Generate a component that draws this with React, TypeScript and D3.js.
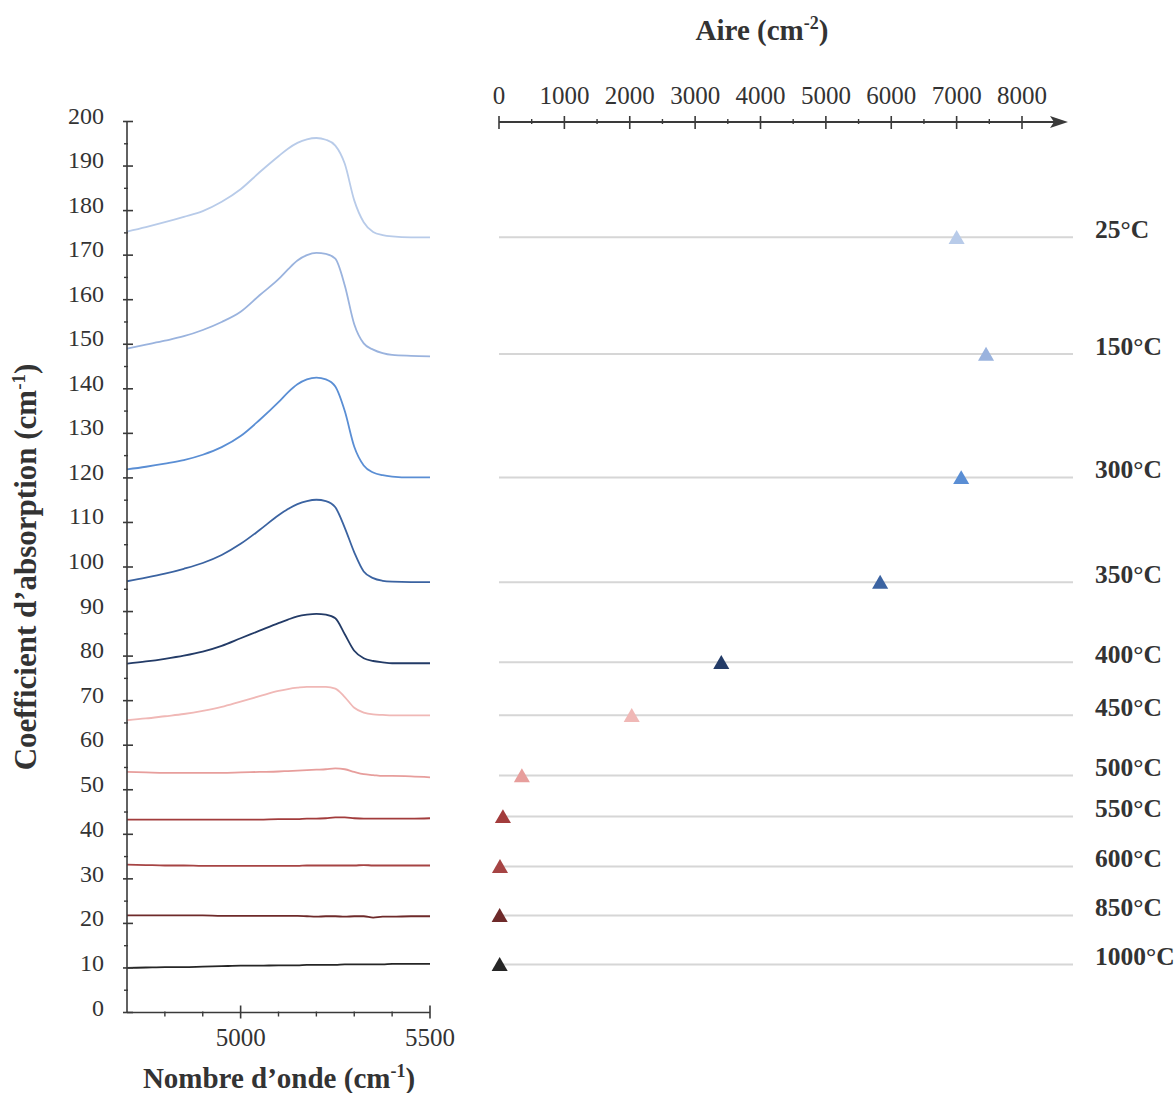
import React from "react";
import * as d3 from "d3";

// Wavenumber grid (cm-1) where the spectra were read
const wavenumbers = [4700, 4750, 4800, 4850, 4900, 4950, 5000, 5050, 5100, 5125, 5150, 5175, 5200, 5225, 5250, 5275, 5300, 5325, 5350, 5375, 5400, 5450, 5500];

// Absorption coefficient (cm-1), stacked spectra per annealing temperature
const abs25 = [175.3, 176.3, 177.4, 178.6, 179.9, 182.0, 184.8, 188.6, 192.2, 193.9, 195.2, 196.0, 196.3, 195.9, 194.6, 190.5, 182.3, 177.4, 175.2, 174.5, 174.2, 174.0, 174.0];
const abs150 = [149.0, 149.9, 150.8, 151.8, 153.2, 155.0, 157.3, 161.0, 164.6, 166.8, 168.8, 170.0, 170.5, 170.3, 169.2, 163.2, 154.5, 150.2, 148.8, 148.0, 147.6, 147.4, 147.3];
const abs300 = [121.9, 122.5, 123.2, 124.0, 125.2, 126.9, 129.4, 133.0, 137.0, 139.2, 141.0, 142.1, 142.5, 142.1, 140.5, 135.0, 127.0, 122.8, 121.2, 120.6, 120.3, 120.1, 120.1];
const abs350 = [96.8, 97.6, 98.5, 99.6, 100.9, 102.7, 105.2, 108.3, 111.6, 113.0, 114.1, 114.8, 115.1, 114.8, 113.4, 108.8, 103.3, 99.0, 97.5, 96.9, 96.7, 96.6, 96.6];
const abs400 = [78.3, 78.8, 79.4, 80.1, 81.0, 82.3, 84.0, 85.7, 87.4, 88.2, 88.9, 89.3, 89.5, 89.3, 88.5, 84.9, 81.2, 79.5, 78.9, 78.6, 78.4, 78.4, 78.4];
const abs450 = [65.6, 66.0, 66.5, 67.0, 67.7, 68.6, 69.8, 71.0, 72.2, 72.6, 72.9, 73.1, 73.1, 73.1, 72.7, 70.8, 68.4, 67.3, 66.9, 66.8, 66.7, 66.7, 66.7];
const abs500 = [54.0, 53.9, 53.8, 53.8, 53.8, 53.8, 53.9, 54.0, 54.1, 54.2, 54.3, 54.4, 54.5, 54.6, 54.8, 54.6, 54.0, 53.5, 53.3, 53.1, 53.1, 53.0, 52.8];
const abs550 = [43.3, 43.3, 43.3, 43.3, 43.3, 43.3, 43.3, 43.3, 43.4, 43.4, 43.4, 43.5, 43.5, 43.6, 43.8, 43.8, 43.6, 43.5, 43.5, 43.5, 43.5, 43.5, 43.6];
const abs600 = [33.2, 33.1, 33.0, 33.0, 32.9, 32.9, 32.9, 32.9, 32.9, 32.9, 32.9, 33.0, 33.0, 33.0, 33.0, 33.0, 33.0, 33.1, 33.0, 33.0, 33.0, 33.0, 33.0];
const abs850 = [21.8, 21.8, 21.8, 21.8, 21.8, 21.7, 21.7, 21.7, 21.7, 21.7, 21.7, 21.6, 21.5, 21.6, 21.6, 21.5, 21.6, 21.6, 21.3, 21.5, 21.5, 21.6, 21.6];
const abs1000 = [10.0, 10.1, 10.2, 10.2, 10.3, 10.4, 10.5, 10.5, 10.6, 10.6, 10.6, 10.7, 10.7, 10.7, 10.7, 10.8, 10.8, 10.8, 10.8, 10.8, 10.9, 10.9, 10.9];

const spectra = [abs25, abs150, abs300, abs350, abs400, abs450, abs500, abs550, abs600, abs850, abs1000];

const temperatures = ["25°C", "150°C", "300°C", "350°C", "400°C", "450°C", "500°C", "550°C", "600°C", "850°C", "1000°C"];
const seriesColors = ["#b8cbe9", "#9ab3de", "#5a8ed4", "#3b63a1", "#233b67", "#f0b8b6", "#e79e9c", "#a23c3c", "#a64444", "#6e2a2a", "#262626"];

// Integrated area (cm-2) per temperature
const areaValues = [7000, 7450, 7070, 5830, 3400, 2030, 350, 60, 15, 10, 10];
// Level (in absorption units) of each row of the area panel
const rowLevels = [174.0, 147.8, 120.1, 96.6, 78.6, 66.7, 53.2, 44.0, 32.8, 21.8, 10.8];

const yTicks = d3.range(0, 201, 10);
const yMinorTicks = d3.range(5, 200, 10);
const xMajorTicks = [5000, 5500];
const xMinorTicks = [4800, 4900, 5100, 5200, 5300, 5400];
const areaTicks = d3.range(0, 8001, 1000);
const areaMinorTicks = d3.range(500, 8000, 1000);

const FONT = "'Liberation Serif', 'Times New Roman', serif";
const AXIS = "#3a3a3a";
const TXT = "#333";

export default function App() {
  const W = 1176, H = 1093;
  const x = d3.scaleLinear().domain([4700, 5500]).range([127, 430]);
  const y = d3.scaleLinear().domain([0, 200]).range([1012.5, 121.5]);
  const xa = d3.scaleLinear().domain([0, 8000]).range([499, 1022]);
  const line = d3
    .line<number>()
    .x((_, i) => x(wavenumbers[i]))
    .y((d) => y(d))
    .curve(d3.curveMonotoneX);
  const tri = d3.symbol().type(d3.symbolTriangle).size(112)();
  const axisY = 122;
  const rowEnd = 1073;

  return (
    <svg
      width={W}
      height={H}
      style={{ position: "absolute", left: 0, top: 0, background: "#fff" }}
      fontFamily={FONT}
    >
      {/* Left panel: spectra */}
      <g>
        {spectra.map((s, i) => (
          <path key={temperatures[i]} d={line(s) || ""} fill="none" stroke={seriesColors[i]} strokeWidth={1.8} />
        ))}
        {/* y axis */}
        <line x1={x(4700)} x2={x(4700)} y1={y(200)} y2={y(0)} stroke={AXIS} strokeWidth={1.6} />
        {yTicks.map((t) => (
          <g key={"yt" + t}>
            <line x1={x(4700) - 4} x2={x(4700) + 6} y1={y(t)} y2={y(t)} stroke={AXIS} strokeWidth={1.6} />
            <text x={104} y={y(t) + 2 + (t < 50 ? 1 : 0)} textAnchor="end" fontSize={24} fill={TXT}>
              {t}
            </text>
          </g>
        ))}
        {yMinorTicks.map((t) => (
          <line key={"ym" + t} x1={x(4700) - 3} x2={x(4700) + 1} y1={y(t)} y2={y(t)} stroke={AXIS} strokeWidth={1.4} />
        ))}
        {/* x axis */}
        <line x1={x(4700)} x2={x(5500)} y1={y(0)} y2={y(0)} stroke={AXIS} strokeWidth={1.6} />
        {xMajorTicks.map((t) => (
          <g key={"xt" + t}>
            <line x1={x(t)} x2={x(t)} y1={y(0) - 7} y2={y(0) + 6} stroke={AXIS} strokeWidth={1.6} />
            <text x={x(t)} y={1046} textAnchor="middle" fontSize={25} fill={TXT}>
              {t}
            </text>
          </g>
        ))}
        {xMinorTicks.map((t) => (
          <line key={"xm" + t} x1={x(t)} x2={x(t)} y1={y(0) - 1} y2={y(0) + 4} stroke={AXIS} strokeWidth={1.4} />
        ))}
        <text x={279} y={1088} textAnchor="middle" fontSize={29} fontWeight="bold" fill={TXT}>
          Nombre d’onde (cm<tspan dy={-11} fontSize={18}>-1</tspan>
          <tspan dy={11}>)</tspan>
        </text>
        <text
          transform={`translate(36, 567) rotate(-90)`}
          textAnchor="middle"
          fontSize={31}
          fontWeight="bold"
          fill={TXT}
        >
          Coefficient d’absorption (cm<tspan dy={-11} fontSize={19}>-1</tspan>
          <tspan dy={11}>)</tspan>
        </text>
      </g>

      {/* Right panel: area */}
      <g>
        <text x={762} y={40} textAnchor="middle" fontSize={29} fontWeight="bold" fill={TXT}>
          Aire (cm<tspan dy={-11} fontSize={18}>-2</tspan>
          <tspan dy={11}>)</tspan>
        </text>
        <line x1={xa(0)} x2={1060} y1={axisY} y2={axisY} stroke={AXIS} strokeWidth={1.8} />
        <path d={`M1068,${axisY} L1050,${axisY - 6} L1054,${axisY} L1050,${axisY + 6} Z`} fill={AXIS} />
        {areaTicks.map((t) => (
          <g key={"at" + t}>
            <line x1={xa(t)} x2={xa(t)} y1={axisY - 6} y2={axisY + 7} stroke={AXIS} strokeWidth={1.6} />
            <text x={xa(t)} y={104} textAnchor="middle" fontSize={25} fill={TXT}>
              {t}
            </text>
          </g>
        ))}
        {areaMinorTicks.map((t) => (
          <line key={"am" + t} x1={xa(t)} x2={xa(t)} y1={axisY - 3} y2={axisY + 2} stroke={AXIS} strokeWidth={1.4} />
        ))}
        {temperatures.map((tl, i) => {
          const ry = y(rowLevels[i]);
          return (
            <g key={"row" + tl}>
              <line x1={xa(0)} x2={rowEnd} y1={ry} y2={ry} stroke="#d6d6d6" strokeWidth={2} />
              <path d={tri || ""} transform={`translate(${xa(areaValues[i])}, ${ry + 2})`} fill={seriesColors[i]} />
              <text x={1095} y={ry + 1} fontSize={25.5} fontWeight="bold" fill={TXT}>
                {tl}
              </text>
            </g>
          );
        })}
      </g>
    </svg>
  );
}
